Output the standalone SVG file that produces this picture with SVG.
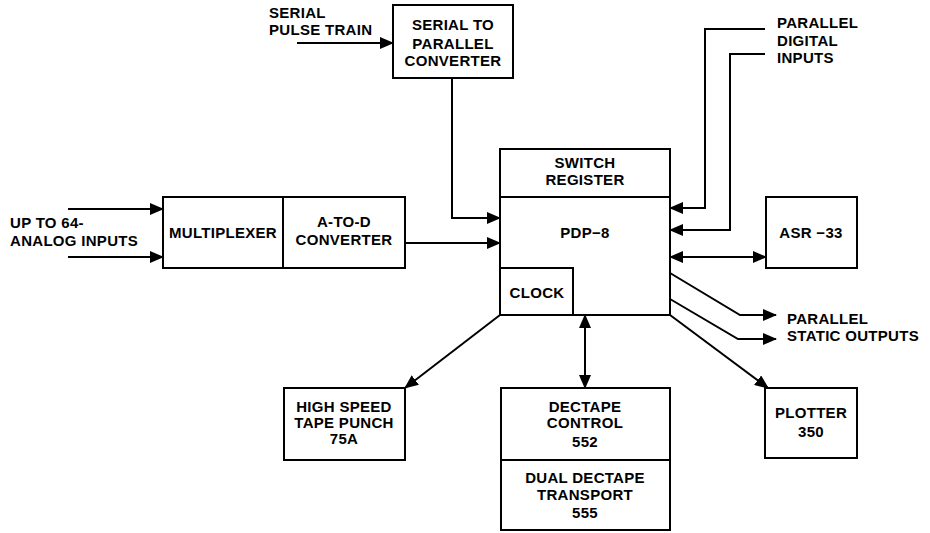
<svg xmlns="http://www.w3.org/2000/svg" width="930" height="533" viewBox="0 0 930 533">
<style>
.b{fill:#fff;stroke:#000;stroke-width:2}
.l{fill:none;stroke:#000;stroke-width:2}
text{font-family:"Liberation Sans",Arial,sans-serif;font-weight:bold;font-size:15px;letter-spacing:0.3px;fill:#000}
.c{text-anchor:middle}
</style>
<defs>
<marker id="ah" markerWidth="14" markerHeight="12" refX="13" refY="6" orient="auto" markerUnits="userSpaceOnUse"><path d="M0,0 L14,6 L0,12 Z" fill="#000"/></marker>
<marker id="as" markerWidth="14" markerHeight="12" refX="1" refY="6" orient="auto" markerUnits="userSpaceOnUse"><path d="M14,0 L0,6 L14,12 Z" fill="#000"/></marker>
</defs>
<rect width="930" height="533" fill="#fff"/>
<g id="serial-label">
<text x="269" y="18">SERIAL</text>
<text x="269" y="35">PULSE TRAIN</text>
</g>
<g id="converter">
<rect class="b" x="393" y="5" width="120" height="73"/>
<text class="c" x="453" y="30">SERIAL  TO</text>
<text class="c" x="453" y="49">PARALLEL</text>
<text class="c" x="453" y="66">CONVERTER</text>
</g>
<g id="analog-label">
<text x="10" y="228">UP TO 64-</text>
<text x="10" y="246">ANALOG INPUTS</text>
</g>
<g id="multiplexer">
<rect class="b" x="163" y="197" width="120" height="71"/>
<text class="c" x="223" y="238">MULTIPLEXER</text>
</g>
<g id="atod">
<rect class="b" x="283" y="197" width="122" height="71"/>
<text class="c" x="344" y="227">A-TO-D</text>
<text class="c" x="344" y="245">CONVERTER</text>
</g>
<g id="pdp8">
<rect class="b" x="500" y="149" width="170" height="166"/>
<line class="l" x1="500" y1="197" x2="670" y2="197"/>
<text class="c" x="585" y="168">SWITCH</text>
<text class="c" x="585" y="185">REGISTER</text>
<text class="c" x="585" y="238">PDP−8</text>
</g>
<g id="clock">
<rect class="b" x="500" y="268" width="73" height="47"/>
<text class="c" x="537" y="298">CLOCK</text>
</g>
<g id="digital-label">
<text x="777" y="28">PARALLEL</text>
<text x="777" y="46">DIGITAL</text>
<text x="777" y="63">INPUTS</text>
</g>
<g id="asr33">
<rect class="b" x="766" y="197" width="91" height="71"/>
<text class="c" x="811" y="238">ASR −33</text>
</g>
<g id="static-label">
<text x="787" y="324">PARALLEL</text>
<text x="787" y="341">STATIC  OUTPUTS</text>
</g>
<g id="plotter">
<rect class="b" x="765" y="388" width="92" height="70"/>
<text class="c" x="811" y="418">PLOTTER</text>
<text class="c" x="811" y="437">350</text>
</g>
<g id="punch">
<rect class="b" x="284" y="388" width="121" height="72"/>
<text class="c" x="344" y="412">HIGH  SPEED</text>
<text class="c" x="344" y="428">TAPE  PUNCH</text>
<text class="c" x="344" y="444">75A</text>
</g>
<g id="dectape">
<rect class="b" x="501" y="388" width="169" height="142"/>
<line class="l" x1="501" y1="460" x2="670" y2="460"/>
<text class="c" x="585" y="412">DECTAPE</text>
<text class="c" x="585" y="428">CONTROL</text>
<text class="c" x="585" y="447">552</text>
<text class="c" x="585" y="483">DUAL DECTAPE</text>
<text class="c" x="585" y="500">TRANSPORT</text>
<text class="c" x="585" y="518">555</text>
</g>
<g id="connectors">
<line class="l" x1="297" y1="43" x2="393" y2="43" marker-end="url(#ah)"/>
<polyline class="l" points="452,78 452,218 500,218" marker-end="url(#ah)"/>
<line class="l" x1="68" y1="209" x2="163" y2="209" marker-end="url(#ah)"/>
<line class="l" x1="68" y1="257" x2="163" y2="257" marker-end="url(#ah)"/>
<line class="l" x1="405" y1="243" x2="500" y2="243" marker-end="url(#ah)"/>
<polyline class="l" points="765,29 705,29 705,208 670,208" marker-end="url(#ah)"/>
<polyline class="l" points="765,54 730,54 730,230 670,230" marker-end="url(#ah)"/>
<line class="l" x1="670" y1="257" x2="766" y2="257" marker-start="url(#as)" marker-end="url(#ah)"/>
<polyline class="l" points="670,273 740,315 776,315" marker-end="url(#ah)"/>
<polyline class="l" points="670,299 738,339 776,339" marker-end="url(#ah)"/>
<line class="l" x1="670" y1="315" x2="768" y2="388" marker-end="url(#ah)"/>
<line class="l" x1="500" y1="315" x2="405" y2="388" marker-end="url(#ah)"/>
<line class="l" x1="585" y1="315" x2="585" y2="388" marker-start="url(#as)" marker-end="url(#ah)"/>
</g>
</svg>
